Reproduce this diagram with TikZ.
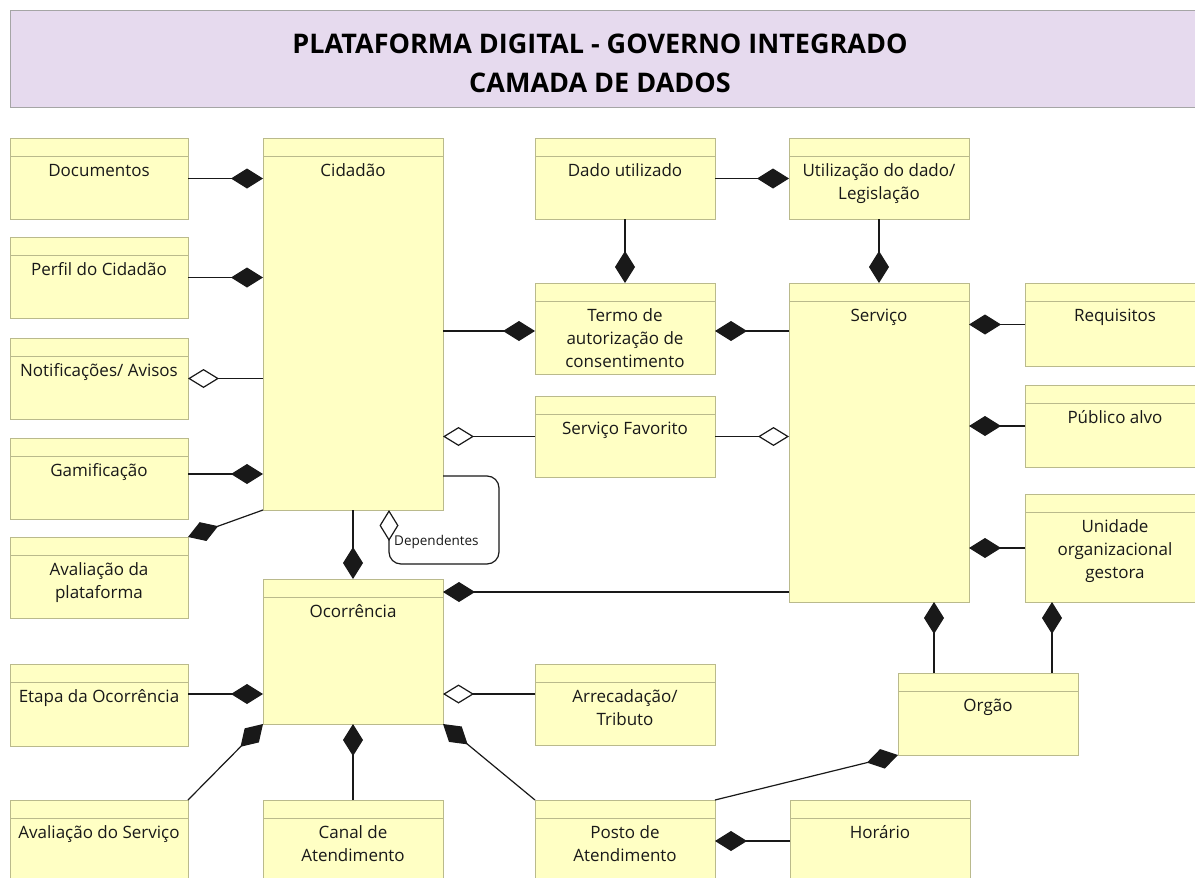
\documentclass[tikz,border=0pt]{standalone}
\usepackage{fontspec}
\setmainfont{Open Sans}
\usetikzlibrary{arrows.meta}

\definecolor{boxfill}{RGB}{255,255,196}
\definecolor{boxedge}{RGB}{186,186,140}
\definecolor{titlefill}{RGB}{230,218,238}
\definecolor{titleedge}{RGB}{165,165,165}
\definecolor{ink}{RGB}{25,25,25}

\tikzset{
  clsbox/.style={rectangle, draw=boxedge, fill=boxfill, line width=1pt, inner sep=0pt, outer sep=0pt},
  clsline/.style={draw=boxedge, line width=1pt},
  clstext/.style={anchor=north, inner sep=0pt, align=center, text=ink, font=\fontsize{17}{23}\selectfont},
  titlebox/.style={rectangle, draw=titleedge, fill=titlefill, line width=1pt, inner sep=0pt},
  titletext/.style={anchor=north, inner sep=0pt, align=center, text=black, font=\bfseries\fontsize{27}{39}\selectfont},
  deplabel/.style={anchor=west, inner sep=0pt, text=ink, font=\fontsize{13.5}{15}\selectfont},
  link/.style={draw=ink, line width=1.2pt},
  comp/.style={link, -{Diamond[length=32pt,width=20pt]}},
  aggr/.style={link, -{Diamond[length=31pt,width=19pt,fill=white]}},
}

% strut that fixes the first baseline of a class name
\newcommand\clsstrut{\rule{0pt}{14pt}}
% class box: name, x1, y1, x2, y2, text
\newcommand\umlclass[6]{%
  \node[clsbox, minimum width={#4-#2}, minimum height={#5-#3}] (#1) at ({(#2+#4)/2},{(#3+#5)/2}) {};
  \draw[clsline] ([yshift=-18.5pt]#1.north west) -- ([yshift=-18.5pt]#1.north east);
  \node[clstext] (#1-t) at ([yshift=-24pt]#1.north) {\clsstrut #6};
}

\begin{document}
\begin{tikzpicture}[x=1pt,y=-1pt]
\useasboundingbox (0,0) rectangle (1195,878);
\clip (0,0) rectangle (1195,878);
\fill[white] (0,0) rectangle (1195,878);

% title banner
\node[titlebox, minimum width=1200, minimum height=97] (title) at (610,58.5) {};
\node[titletext] (title-t) at (600,33) {\rule{0pt}{20pt}PLATAFORMA DIGITAL - GOVERNO INTEGRADO\\CAMADA DE DADOS};

% classes
\umlclass{doc}{10}{138}{188}{219}{Documentos}
\umlclass{perfil}{10}{237}{188}{318}{Perfil do Cidadão}
\umlclass{notif}{10}{338}{188}{419}{Notificações/ Avisos}
\umlclass{gami}{10}{438}{188}{519}{Gamificação}
\umlclass{avalplat}{10}{537}{188}{618}{Avaliação da\\plataforma}
\umlclass{cid}{263}{138}{443}{510}{Cidadão}
\umlclass{ocor}{263}{579}{443}{724}{Ocorrência}
\umlclass{etapa}{10}{664}{188}{746}{Etapa da Ocorrência}
\umlclass{avalserv}{10}{800}{188}{900}{Avaliação do Serviço}
\umlclass{canal}{263}{800}{443}{900}{Canal de\\Atendimento}
\umlclass{dado}{535}{138}{715}{219}{Dado utilizado}
\umlclass{termo}{535}{283}{715}{374}{Termo de\\autorização de\\consentimento}
\umlclass{fav}{535}{396}{715}{477}{Serviço Favorito}
\umlclass{arrec}{535}{664}{715}{745}{Arrecadação/\\Tributo}
\umlclass{posto}{535}{800}{715}{900}{Posto de\\Atendimento}
\umlclass{util}{789}{138}{969}{219}{Utilização do dado/\\Legislação}
\umlclass{serv}{789}{283}{969}{602}{Serviço}
\umlclass{horario}{790}{800}{970}{900}{Horário}
\umlclass{req}{1025}{283}{1205}{366}{Requisitos}
\umlclass{pub}{1025}{385}{1205}{467}{Público alvo}
\umlclass{unid}{1025}{494}{1205}{602}{Unidade\\organizacional\\gestora}
\umlclass{orgao}{898}{673}{1078}{755}{Orgão}

% associations around Cidadão
\draw[comp] (doc.east) -- (doc.east -| cid.west);
\draw[comp] (perfil.east) -- (perfil.east -| cid.west);
\draw[aggr] (notif.east -| cid.west) -- (notif.east);
\draw[comp] (gami.east |- 0,474) -- (cid.west |- 0,474);
\draw[comp] (cid.south west) -- (avalplat.north east);
\draw[comp] (cid.south) -- (ocor.north);
\draw[comp] (cid.east |- 0,331) -- (termo.west |- 0,331);
\draw[aggr] (fav.west) -- (fav.west -| cid.east);

% self association of Cidadão
\draw[aggr, rounded corners=12pt] (cid.east |- 0,476) -- (499,476) -- (499,564) -- (389,564) -- (cid.south -| 389,0);
\node[deplabel] (dep) at (394,542) {Dependentes};

% data usage and consent
\draw[comp] (dado.south) -- (termo.north);
\draw[comp] (dado.east) -- (dado.east -| util.west);
\draw[comp] (util.south) -- (util.south |- serv.north);
\draw[comp] (serv.west |- 0,331) -- (termo.east |- 0,331);
\draw[aggr] (fav.east) -- (fav.east -| serv.west);

% Serviço parts
\draw[comp] (req.west) -- (req.west -| serv.east);
\draw[comp] (pub.west) -- (pub.west -| serv.east);
\draw[comp] (unid.west) -- (unid.west -| serv.east);
\draw[comp] (serv.west |- 0,592) -- (ocor.east |- 0,592);
\draw[comp] (orgao.north -| 934,0) -- (serv.south -| 934,0);
\draw[comp] (orgao.north -| 1052,0) -- (unid.south -| 1052,0);

% Ocorrência parts
\draw[comp] (etapa.east |- 0,694) -- (ocor.west |- 0,694);
\draw[aggr] (arrec.west |- 0,694) -- (ocor.east |- 0,694);
\draw[comp] (avalserv.north east) -- (ocor.south west);
\draw[comp] (canal.north) -- (ocor.south);
\draw[comp] (posto.north west) -- (ocor.south east);

% service points
\draw[comp] (posto.north east) -- (orgao.south west);
\draw[comp] (horario.west |- 0,841) -- (posto.east |- 0,841);
\end{tikzpicture}
\end{document}
